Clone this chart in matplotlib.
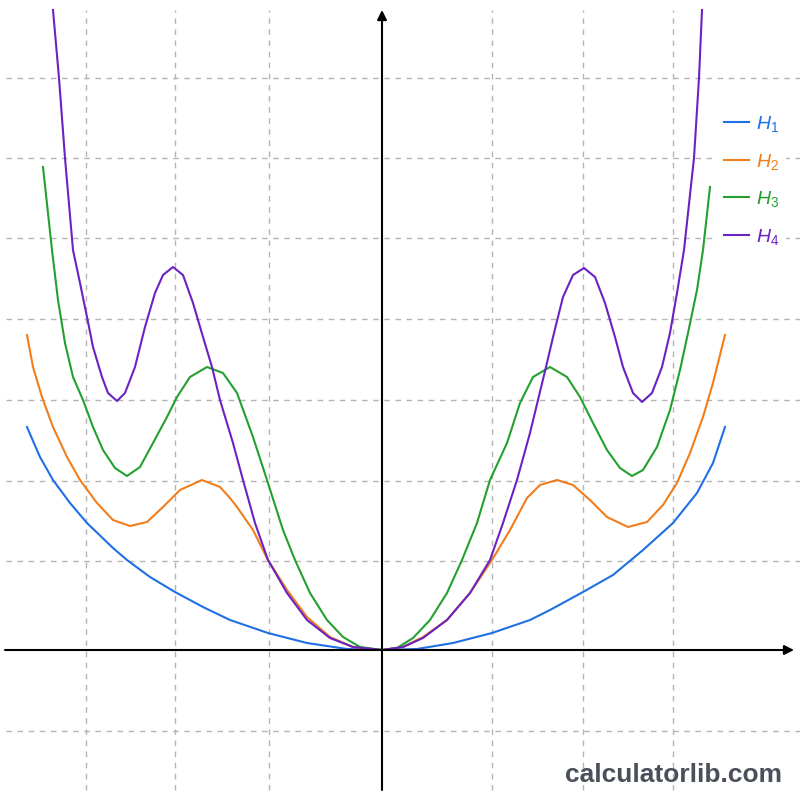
import matplotlib.pyplot as plt

# Values (x: 1 unit = 100 px, y: 1 unit = 100 px, origin at the axes crossing)
h1_x = [-3.55, -3.42, -3.29, -3.12, -2.95, -2.69, -2.55, -2.32, -2.07, -1.79, -1.52, -1.14, -0.75, -0.35, 0.0,
        0.35, 0.71, 1.10, 1.48, 1.68, 2.01, 2.31, 2.61, 2.91, 3.15, 3.31, 3.43]
h1_y = [2.23, 1.93, 1.70, 1.47, 1.27, 1.02, 0.90, 0.73, 0.58, 0.43, 0.30, 0.17, 0.07, 0.01, 0.0,
        0.01, 0.07, 0.17, 0.30, 0.40, 0.58, 0.75, 1.00, 1.27, 1.57, 1.87, 2.23]

h2_x = [-3.55, -3.49, -3.40, -3.29, -3.15, -3.02, -2.85, -2.69, -2.52, -2.35, -2.19, -2.02, -1.80, -1.62, -1.52,
        -1.45, -1.29, -1.14, -0.95, -0.75, -0.52, -0.29, 0.0,
        0.21, 0.41, 0.65, 0.88, 1.10, 1.28, 1.45, 1.58, 1.75, 1.91, 2.08, 2.25, 2.46, 2.65, 2.81, 2.95, 3.08,
        3.21, 3.31, 3.43]
h2_y = [3.15, 2.83, 2.53, 2.23, 1.93, 1.70, 1.47, 1.30, 1.24, 1.28, 1.43, 1.60, 1.70, 1.63, 1.52,
        1.43, 1.20, 0.90, 0.60, 0.33, 0.13, 0.03, 0.0,
        0.03, 0.13, 0.30, 0.57, 0.90, 1.20, 1.52, 1.65, 1.70, 1.65, 1.50, 1.33, 1.23, 1.28, 1.45, 1.67, 1.97,
        2.33, 2.67, 3.15]

h3_x = [-3.39, -3.30, -3.24, -3.17, -3.09, -2.99, -2.89, -2.79, -2.67, -2.55, -2.42, -2.29, -2.15, -2.05, -1.92,
        -1.75, -1.59, -1.45, -1.29, -1.15, -0.99, -0.87, -0.72, -0.55, -0.39, -0.22, 0.0,
        0.15, 0.31, 0.48, 0.65, 0.80, 0.95, 1.08, 1.25, 1.38, 1.51, 1.68, 1.85, 1.98, 2.11, 2.25, 2.38, 2.50,
        2.61, 2.75, 2.88, 2.98, 3.06, 3.15, 3.21, 3.28]
h3_y = [4.83, 4.00, 3.50, 3.07, 2.73, 2.50, 2.23, 2.00, 1.82, 1.74, 1.83, 2.07, 2.33, 2.53, 2.73,
        2.83, 2.77, 2.57, 2.13, 1.70, 1.20, 0.90, 0.57, 0.30, 0.13, 0.03, 0.0,
        0.02, 0.12, 0.30, 0.57, 0.90, 1.27, 1.70, 2.07, 2.47, 2.73, 2.83, 2.73, 2.53, 2.27, 2.00, 1.82, 1.74,
        1.80, 2.03, 2.40, 2.80, 3.17, 3.60, 4.00, 4.63]

h4_x = [-3.29, -3.23, -3.17, -3.09, -3.02, -2.95, -2.89, -2.80, -2.74, -2.65, -2.57, -2.47, -2.37, -2.27, -2.19,
        -2.09, -1.99, -1.89, -1.79, -1.70, -1.62, -1.49, -1.39, -1.27, -1.14, -0.95, -0.75, -0.52, -0.29, 0.0,
        0.21, 0.41, 0.65, 0.88, 1.08, 1.21, 1.35, 1.48, 1.56, 1.64, 1.72, 1.81, 1.91, 2.02, 2.13, 2.23, 2.33,
        2.41, 2.51, 2.60, 2.70, 2.80, 2.88, 2.95, 3.02, 3.12, 3.17, 3.20]
h4_y = [6.40, 5.72, 4.92, 4.00, 3.67, 3.33, 3.03, 2.73, 2.57, 2.49, 2.57, 2.83, 3.23, 3.57, 3.75,
        3.83, 3.75, 3.47, 3.13, 2.83, 2.50, 2.07, 1.70, 1.27, 0.90, 0.57, 0.30, 0.12, 0.03, 0.0,
        0.03, 0.12, 0.30, 0.57, 0.90, 1.27, 1.70, 2.17, 2.50, 2.83, 3.17, 3.53, 3.75, 3.82, 3.73, 3.47, 3.13,
        2.83, 2.57, 2.48, 2.57, 2.83, 3.17, 3.57, 4.00, 4.92, 5.72, 6.40]

labels = ['$H_1$', '$H_2$', '$H_3$', '$H_4$']
colors = ['#1f6fe6', '#f27d1b', '#23a030', '#6a23c2']

grid_x = [-2.96, -2.07, -1.13, 1.10, 2.01, 2.91]
grid_y = [5.72, 4.92, 4.12, 3.31, 2.50, 1.69, 0.89, -0.81]

plt.rcParams['mathtext.fontset'] = 'custom'
plt.rcParams['mathtext.it'] = 'Liberation Sans:italic'
plt.rcParams['mathtext.rm'] = 'Liberation Sans'

fig = plt.figure(figsize=(8, 8), dpi=100)
ax = fig.add_axes([0, 0, 1, 1])
ax.set_xlim(-3.82, 4.18)
ax.set_ylim(-1.5, 6.5)
ax.axis('off')

# dashed grid
ax.vlines(grid_x, -1.40, 6.40, colors='#b4b4b4', linestyles=(0, (4, 4)), lw=1)
ax.hlines(grid_y, -3.76, 4.18, colors='#b4b4b4', linestyles=(0, (4, 4)), lw=1)

# axes with arrows
arrow = dict(arrowstyle='-|>', color='black', lw=1.5, mutation_scale=14, shrinkA=0, shrinkB=0)
ax.annotate('', xy=(4.12, 0), xytext=(-3.77, 0), arrowprops=arrow)
ax.annotate('', xy=(0, 6.40), xytext=(0, -1.40), arrowprops=arrow)

for xs, ys, lab, c in zip([h1_x, h2_x, h3_x, h4_x], [h1_y, h2_y, h3_y, h4_y], labels, colors):
    ax.plot(xs, ys, color=c, lw=1.5, label=lab, solid_joinstyle='round')

leg = ax.legend(loc='upper right', bbox_to_anchor=(0.982, 0.866), fontsize=14, frameon=True,
                facecolor='white', edgecolor='none', framealpha=1, handlelength=1.3,
                handletextpad=0.35, labelspacing=0.9, borderpad=0.35, borderaxespad=0,
                labelcolor='linecolor')

fig.text(0.977, 0.023, 'calculatorlib.com', ha='right', va='baseline', fontsize=19,
         fontweight='bold', color='#4a4f5a', family='Liberation Sans')

fig.savefig('out.png', dpi=100)
